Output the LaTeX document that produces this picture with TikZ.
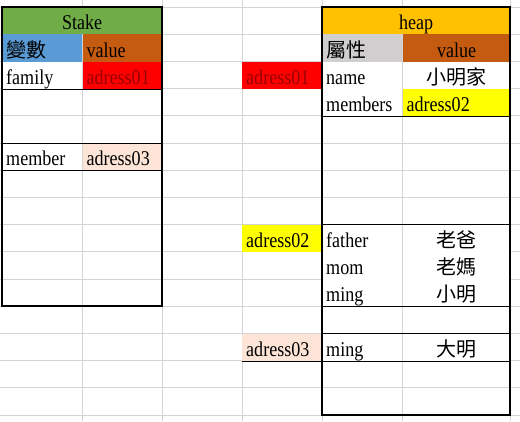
\documentclass[tikz,border=0pt]{standalone}
\usepackage{fontspec}
\setmainfont[FakeStretch=0.86]{Liberation Serif}
\newfontfamily\cjk{Noto Sans CJK TC}
\newcommand\cjktext[1]{{\cjk\fontsize{20}{22}\selectfont #1}}
\usepackage{xcolor}
\usetikzlibrary{positioning}

\definecolor{stakegreen}{HTML}{70AD47}
\definecolor{varblue}{HTML}{5B9BD5}
\definecolor{valbrown}{HTML}{C55A11}
\definecolor{heapgold}{HTML}{FFC000}
\definecolor{attrgray}{HTML}{D0CECE}
\definecolor{addrred}{HTML}{FF0000}
\definecolor{addrtext}{HTML}{990000}
\definecolor{addryellow}{HTML}{FFFF00}
\definecolor{addrpeach}{HTML}{FCE4D6}
\definecolor{gridgray}{HTML}{D4D4D4}

\begin{document}
\begin{tikzpicture}[
    x=1pt, y=-1pt,
    node distance=0pt,
    cell/.style={rectangle, anchor=north west, inner xsep=4pt, inner ysep=0pt, minimum height=27.2pt, text width=72pt, text height=20pt, text depth=1.8pt, align=left, font=\fontsize{21}{23}\selectfont},
    valcell/.style={cell, text width=100pt},
    headcell/.style={cell, align=center},
    gridline/.style={draw=gridgray, line width=0.8pt},
    thinline/.style={draw=black, line width=0.9pt},
    border/.style={draw=black, line width=2.2pt}
]
\useasboundingbox (0,0) rectangle (520,421);

% sheet grid
\foreach \r in {0,...,15}
    \draw[gridline] (0,7+27.2*\r) -- (520,7+27.2*\r);
\foreach \c in {82,162,242,322,402,510}
    \draw[gridline] (\c,0) -- (\c,421);

% stake
\node[headcell, fill=stakegreen, text width=152pt] (stake) at (2,7) {Stake};
\node[cell, fill=varblue] (var) at (2,34.2) {\cjktext{變數}};
\node[cell, fill=valbrown, right=0pt of var] (stake-val) {value};
\node[cell, fill=white] (family) at (2,61.4) {family};
\node[cell, fill=addrred, text=addrtext, right=0pt of family] (family-val) {adress01};
\node[cell, fill=white] (member) at (2,143) {member};
\node[cell, fill=addrpeach, right=0pt of member] (member-val) {adress03};

% addresses
\node[cell, fill=addrred, text=addrtext] (addr1) at (242,61.4) {adress01};
\node[cell, fill=addryellow] (addr2) at (242,224.6) {adress02};
\node[cell, fill=addrpeach] (addr3) at (242,333.4) {adress03};

% heap
\node[headcell, fill=heapgold, text width=180pt] (heap) at (322,7) {heap};
\node[cell, fill=attrgray] (attr) at (322,34.2) {\cjktext{屬性}};
\node[valcell, fill=valbrown, align=center, right=0pt of attr] (heap-val) {value};
\node[cell, fill=white] (name) at (322,61.4) {name};
\node[valcell, fill=white, align=center, right=0pt of name] (name-val) {\cjktext{小明家}};
\node[cell, fill=white] (members) at (322,88.6) {members};
\node[valcell, fill=addryellow, right=0pt of members] (members-val) {adress02};
\node[cell, fill=white] (father) at (322,224.6) {father};
\node[valcell, fill=white, align=center, right=0pt of father] (father-val) {\cjktext{老爸}};
\node[cell, fill=white] (mom) at (322,251.8) {mom};
\node[valcell, fill=white, align=center, right=0pt of mom] (mom-val) {\cjktext{老媽}};
\node[cell, fill=white] (ming) at (322,279) {ming};
\node[valcell, fill=white, align=center, right=0pt of ming] (ming-val) {\cjktext{小明}};
\node[cell, fill=white] (ming2) at (322,333.4) {ming};
\node[valcell, fill=white, align=center, right=0pt of ming2] (ming2-val) {\cjktext{大明}};

% cell borders
\draw[thinline] (family.south west) -- (family-val.south east);
\draw[thinline] (member.north west) -- (member-val.north east);
\draw[thinline] (member.south west) -- (member-val.south east);
\draw[thinline] (members.south west) -- (members-val.south east);
\draw[thinline] (father.north west) -- (father-val.north east);
\draw[thinline] (ming.south west) -- (ming-val.south east);
\draw[thinline] (ming2.north west) -- (ming2-val.north east);
\draw[thinline] (addr3.south west) -- (ming2-val.south east);

\draw[border] (stake.north west) rectangle (162,306.2);
\draw[border] (heap.north west) rectangle (510,415);

\end{tikzpicture}
\end{document}
